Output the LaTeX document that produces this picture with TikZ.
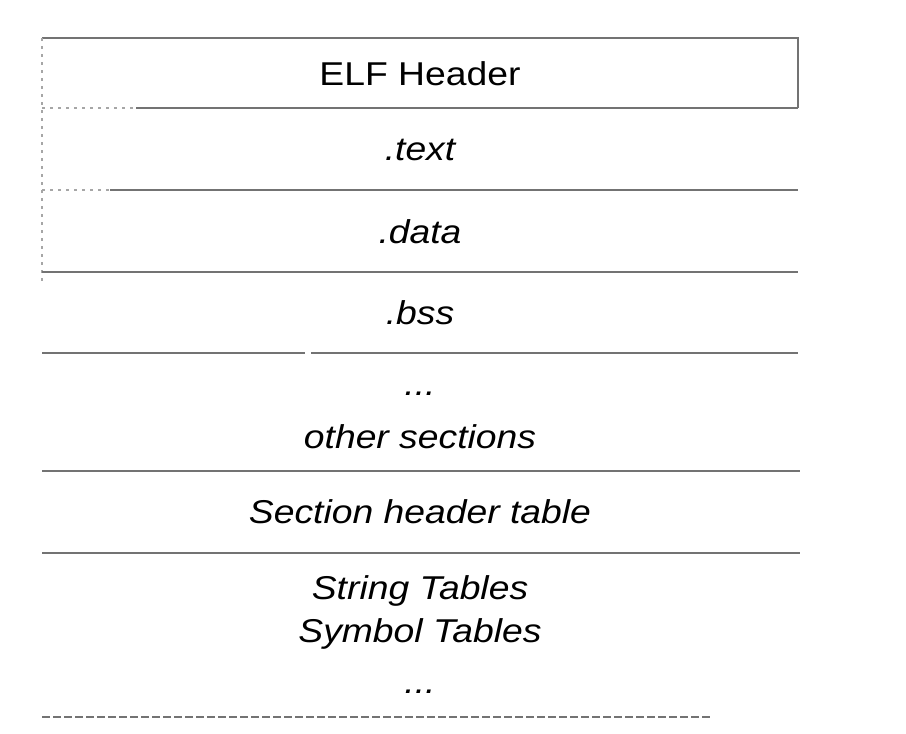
\documentclass[tikz,border=0pt]{standalone}
\usepackage{fontspec}
\setmainfont{Liberation Sans}[FakeStretch=1.13]
\begin{document}
\begin{tikzpicture}[x=1pt,y=-1pt,
  rule/.style={draw=black!55, line width=2pt},
  faint/.style={draw=black!35, line width=1.5pt, dash pattern=on 3pt off 5pt},
  lbl/.style={font=\fontsize{33}{43}\selectfont\itshape, inner sep=0pt, align=center},
  hdr/.style={font=\fontsize{33}{43}\selectfont, inner sep=0pt}]
\useasboundingbox[fill=white] (0,0) rectangle (906,734);
% frame
\draw[rule] (42,38) -- (798,38) -- (798,108);
\draw[faint] (42,38) -- (42,283);
\draw[faint] (42,108) -- (136,108);
\draw[rule] (136,108) -- (798,108);
\draw[faint] (42,190) -- (110,190);
\draw[rule] (110,190) -- (798,190);
\draw[rule] (42,272) -- (798,272);
\draw[rule] (42,353) -- (305,353);
\draw[rule] (311,353) -- (798,353);
\draw[rule] (42,471) -- (800,471);
\draw[rule] (42,553) -- (800,553);
\draw[draw=black!55, line width=2pt, dash pattern=on 8pt off 3pt] (42,717) -- (712,717);
% labels
\node[hdr] (elf) at (420,74) {ELF Header};
\node[lbl] (text) at (420,150) {.text};
\node[lbl] (data) at (420,232) {.data};
\node[lbl] (bss) at (420,313) {.bss};
\node[lbl] (dots1) at (420,394) {...};
\node[lbl] (other) at (420,437) {other sections};
\node[lbl] (sht) at (420,512) {Section header table};
\node[lbl] (tables) at (420,612) {String Tables\\Symbol Tables};
\node[lbl] (dots2) at (420,692) {...};
\end{tikzpicture}
\end{document}
